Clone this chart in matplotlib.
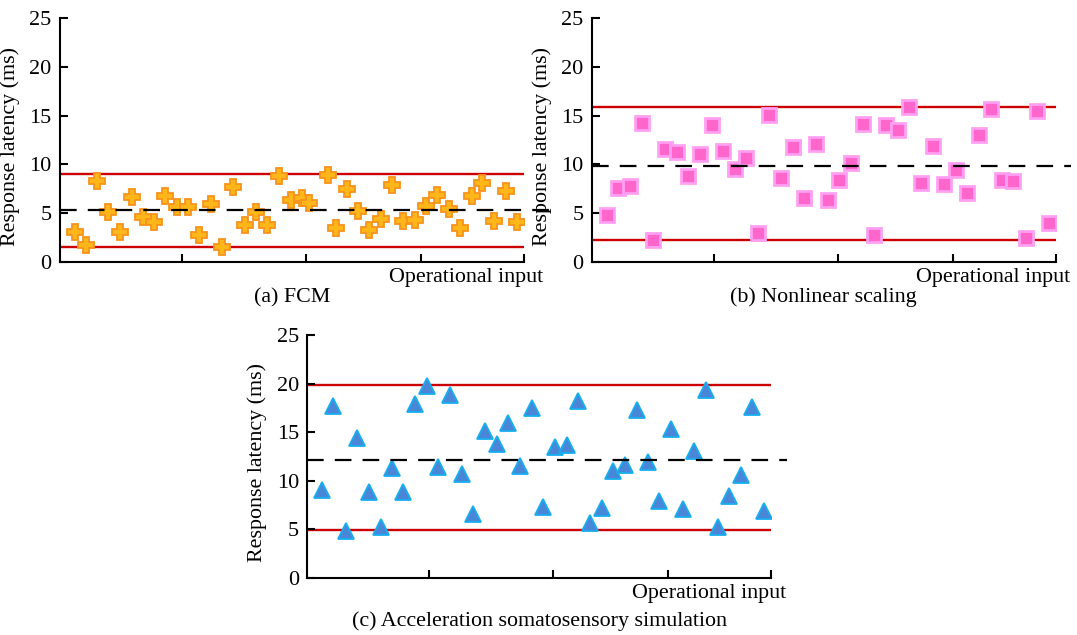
import numpy as np
import matplotlib.pyplot as plt

plt.rcParams['font.family'] = ['Liberation Serif', 'DejaVu Serif']

# (a) FCM - response latency per operational input
fcm_x = [1.29, 2.24, 3.22, 4.16, 5.20, 6.18, 7.13, 8.10, 9.08, 10.06,
         11.03, 12.01, 12.99, 13.99, 14.94, 15.95, 16.90, 17.87, 18.85, 19.91,
         20.89, 21.49, 23.13, 23.79, 24.72, 25.72, 26.66, 27.65, 28.65, 29.60,
         30.60, 31.53, 32.53, 33.56, 34.48, 35.49, 36.41, 37.44, 38.42, 39.42]
fcm_y = [3.04, 1.74, 8.3, 5.15, 3.04, 6.7, 4.64, 4.13, 6.76, 5.67,
         5.67, 2.73, 5.94, 1.5, 7.65, 3.79, 5.15, 3.79, 8.84, 6.35,
         6.59, 6.0, 8.95, 3.45, 7.45, 5.2, 3.3, 4.37, 7.9, 4.2,
         4.3, 5.74, 6.86, 5.4, 3.45, 6.76, 8.13, 4.23, 7.27, 4.13]
fcm_lines = [8.98, 1.52, 5.35]  # upper, lower, mean

# (b) Nonlinear scaling
nls_x = [1.29, 2.29, 3.30, 4.31, 5.31, 6.32, 7.33, 8.33, 9.34, 10.35,
         11.35, 12.35, 13.30, 14.36, 15.31, 16.32, 17.33, 18.33, 19.34, 20.35,
         21.35, 22.35, 23.36, 24.36, 25.37, 26.38, 27.38, 28.39, 29.40, 30.37,
         31.38, 32.38, 33.39, 34.40, 35.35, 36.35, 37.42, 38.42, 39.42]
nls_y = [4.79, 7.53, 7.8, 14.26, 2.3, 11.53, 11.28, 8.82, 11.05, 14.02,
         11.38, 9.48, 10.7, 2.97, 15.05, 8.62, 11.8, 6.56, 12.04, 6.4,
         8.38, 10.19, 14.12, 2.81, 14.02, 13.5, 15.84, 8.1, 11.87, 7.94,
         9.4, 7.08, 13.0, 15.63, 8.45, 8.31, 2.5, 15.49, 4.0]
nls_lines = [15.84, 2.3, 9.8]

# (c) Acceleration somatosensory simulation
acc_x = [1.29, 2.24, 3.31, 4.26, 5.32, 6.33, 7.33, 8.28, 9.29, 10.30,
         11.30, 12.31, 13.32, 14.32, 15.33, 16.34, 17.29, 18.35, 19.36, 20.36,
         21.37, 22.38, 23.38, 24.39, 25.39, 26.40, 27.41, 28.41, 29.36, 30.36,
         31.37, 32.38, 33.38, 34.39, 35.40, 36.40, 37.41, 38.39, 39.39]
acc_y = [9.08, 17.72, 4.87, 14.44, 8.81, 5.28, 11.33, 8.81, 17.89, 19.8,
         11.43, 18.82, 10.74, 6.56, 15.13, 13.75, 15.99, 11.5, 17.44, 7.29,
         13.47, 13.64, 18.24, 5.63, 7.18, 10.98, 11.67, 17.3, 11.9, 7.94,
         15.3, 7.08, 13.06, 19.38, 5.28, 8.39, 10.64, 17.55, 6.84]
acc_lines = [19.85, 4.92, 12.1]

y_ticks = [0, 5, 10, 15, 20, 25]
x_tick_frac = [0.263, 0.530, 0.778, 1.0]


def draw_panel(ax, x, y, lines, caption, marker, face, edge, ms, mew,
               dash_ext, xlabel_x, caption_y):
    upper, lower, mean = lines
    ax.axhline(upper, color='#CC0000', lw=1.7, zorder=1)
    ax.axhline(lower, color='#CC0000', lw=1.7, zorder=1)
    ax.plot(x, y, linestyle='none', marker=marker, ms=ms, mfc=face, mec=edge,
            mew=mew, zorder=2)
    ax.plot([0, 1 + dash_ext], [mean, mean], color='black', lw=1.6,
            linestyle=(0, (7.5, 5)), transform=ax.get_yaxis_transform(),
            clip_on=False, zorder=3)

    ax.set_xlim(0, 40)
    ax.set_ylim(0, 25)
    ax.set_yticks(y_ticks)
    ax.set_xticks([f * 40 for f in x_tick_frac])
    ax.set_xticklabels([])
    ax.tick_params(direction='in', length=6, width=1.5, labelsize=16, pad=6)
    for s in ['top', 'right']:
        ax.spines[s].set_visible(False)
    for s in ['left', 'bottom']:
        ax.spines[s].set_linewidth(1.5)

    ax.set_ylabel('Response latency (ms)', fontsize=15.8)
    ax.yaxis.set_label_coords(-0.086, 0.475)
    ax.text(xlabel_x, -0.062, 'Operational input', transform=ax.transAxes,
            ha='right', va='center', fontsize=15.8)
    ax.text(0.5, caption_y, caption, transform=ax.transAxes,
            ha='center', va='center', fontsize=15.8)


fig = plt.figure(figsize=(10.77, 6.35), dpi=100)
ax_a = fig.add_axes([0.0557, 0.5874, 0.4308, 0.3843])
ax_b = fig.add_axes([0.5494, 0.5874, 0.4308, 0.3843])
ax_c = fig.add_axes([0.2853, 0.0898, 0.4305, 0.3827])

draw_panel(ax_a, fcm_x, fcm_y, fcm_lines, '(a) FCM', 'P',
           '#FFB619', '#F7931E', 11.5, 1.3, 0.056, 1.041, -0.145)
draw_panel(ax_b, nls_x, nls_y, nls_lines, '(b) Nonlinear scaling', 's',
           '#FF66CC', '#FFA0F2', 10, 2.0, 0.034, 1.031, -0.145)
draw_panel(ax_c, acc_x, acc_y, acc_lines, '(c) Acceleration somatosensory simulation', '^',
           '#4A86D8', '#16AEEF', 11.5, 1.3, 0.034, 1.033, -0.178)

plt.savefig('out.png', dpi=100)
